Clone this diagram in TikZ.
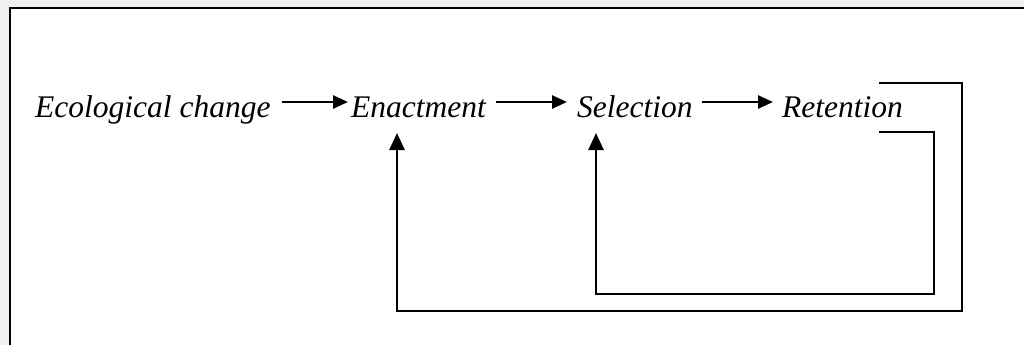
\documentclass[tikz,border=0pt]{standalone}
\usepackage{fontspec}
\setmainfont{Liberation Serif}
\usetikzlibrary{arrows.meta}
\tikzset{
  lbl/.style={anchor=base west, inner sep=0pt, font=\fontsize{31.5}{36}\selectfont\itshape},
  flow/.style={line width=2.6pt, -{Triangle[length=15pt,width=13pt]}},
  back/.style={line width=2.6pt, -{Triangle[length=17pt,width=15pt]}},
  frame/.style={line width=2.6pt}
}
\begin{document}
\begin{tikzpicture}[x=1pt,y=-1pt]
  \useasboundingbox (0,0) rectangle (1024,345);
  \fill[gray!12] (0,0) rectangle (1024,345);
  \fill[white] (10,8) rectangle (1024,345);
  \draw[frame] (10,345) -- (10,8) -- (1024,8);
  % labels
  \node[lbl] (eco) at (35,117) {Ecological change};
  \node[lbl] (ena) at (351,117) {Enactment};
  \node[lbl] (sel) at (577,117) {Selection};
  \node[lbl] (ret) at (782,117) {Retention};
  % forward arrows
  \draw[flow] ([xshift=11pt,yshift=15pt]eco.base east) -- ([xshift=-3pt,yshift=15pt]ena.base west);
  \draw[flow] ([xshift=10pt,yshift=15pt]ena.base east) -- ([xshift=-10pt,yshift=15pt]sel.base west);
  \draw[flow] ([xshift=9pt,yshift=15pt]sel.base east) -- ([xshift=-9pt,yshift=15pt]ret.base west);
  % feedback loops
  \coordinate (o1) at (879,83);
  \coordinate (o2) at (962,311);
  \coordinate (oe) at (397,133);
  \coordinate (i1) at (879,132);
  \coordinate (i2) at (934,294);
  \coordinate (ie) at (596,133);
  \draw[back] (o1) -| (o2) -| (oe);
  \draw[back] (i1) -| (i2) -| (ie);
\end{tikzpicture}
\end{document}
